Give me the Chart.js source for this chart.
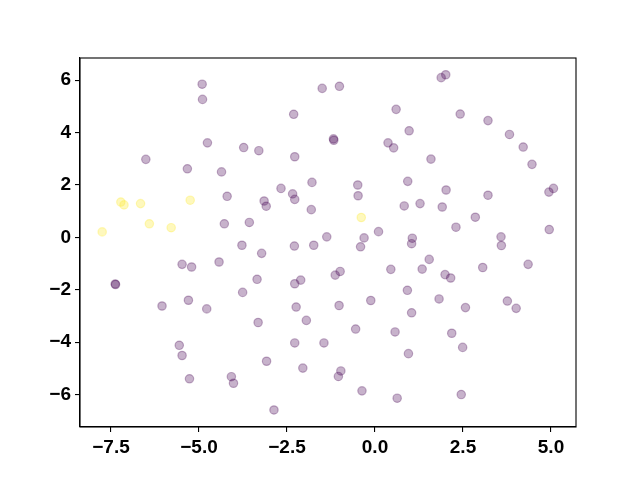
<!DOCTYPE html>
<html>
<head>
<meta charset="utf-8">
<script src="https://cdn.jsdelivr.net/npm/chart.js@4"></script>
<style>
  body { margin: 0; background: #fff; }
  canvas { display: block; }
</style>
</head>
<body>
<canvas id="plot" width="640" height="480"></canvas>
<script>
/* DATA */

const purpleX = [-4.91, -4.90, -4.76, -3.73, -6.51, -5.33, -4.36, -4.20, -4.28, -3.57, -3.78,
  -1.50, -1.01, -2.31, 0.60, 0.97, -1.18, -1.17, 0.37, 0.53, -3.30, -2.28, 0.93, -1.79, -0.49,
  -2.67, -0.48, -2.34, -2.28, -3.15, -3.09, 0.83, -1.81, 0.10, -1.37, -0.31, 1.06, 1.04,
  1.88, 2.01, 2.42, 3.21, 3.82, 4.21, 4.46, 1.59, 2.02, 3.21, 5.07, 4.94, 1.28, 1.91, 2.85,
  2.30, 4.95, 3.58, -5.48, -5.21, -4.43, -7.38, -7.37, -3.76, -5.30, -6.05, -4.78, -5.56,
  -5.48, -5.27, -4.08, -4.02, -3.22, -2.29, -1.74, -0.41, -3.35, -2.28, -2.11, -1.13, -0.99,
  0.45, 0.92, -2.24, -1.02, -0.12, 1.04, -3.32, -1.95, -0.55, 0.57, -2.28, -1.45, 0.95,
  -3.08, -2.05, -0.97, -1.04, -0.37, 0.63, -2.87, 3.59, 1.54, 1.34, 1.99, 2.15, 3.06, 4.35,
  1.82, 2.57, 3.76, 4.01, 2.18, 2.49, 2.45];
const purpleY = [5.85, 5.27, 3.61, 3.43, 2.98, 2.62, 2.50, 1.57, 0.52, 0.57, -0.30,
  5.69, 5.77, 4.70, 4.89, 4.07, 3.76, 3.71, 3.61, 3.42, 3.31, 3.08, 2.14, 2.10, 2.00,
  1.87, 1.59, 1.66, 1.45, 1.39, 1.19, 1.20, 1.06, 0.22, 0.02, -0.02, -0.03, -0.24,
  6.10, 6.21, 4.71, 4.46, 3.93, 3.45, 2.79, 2.99, 1.81, 1.61, 1.87, 1.73, 1.29, 1.16, 0.77,
  0.39, 0.30, 0.02, -1.03, -1.13, -0.94, -1.78, -1.80, -2.10, -2.40, -2.62, -2.73, -4.12,
  -4.51, -5.40, -5.32, -5.57, -0.61, -0.33, -0.30, -0.36, -1.60, -1.77, -1.63, -1.44, -1.30,
  -1.22, -2.02, -2.66, -2.60, -2.41, -2.88, -3.25, -3.17, -3.50, -3.61, -4.03, -4.03, -4.44,
  -4.73, -4.99, -5.10, -5.31, -5.86, -6.14, -6.59, -0.31, -0.84, -1.21, -1.42, -1.55, -1.15, -1.03,
  -2.35, -2.68, -2.43, -2.71, -3.66, -4.20, -6.00];

const yellowX = [-7.22, -7.13, -6.66, -5.25, -6.41, -5.79, -7.75, -0.39];
const yellowY = [1.35, 1.24, 1.29, 1.42, 0.52, 0.37, 0.21, 0.76];

const xTicks = [-7.5, -5.0, -2.5, 0.0, 2.5, 5.0];
const yTicks = [-6, -4, -2, 0, 2, 4, 6];

/* HELPERS */

const toPoints = (xs, ys) => xs.map((x, i) => ({ x: x, y: ys[i] }));
const minus = s => s.replace("-", "\u2212");

const tickFont = { family: "Liberation Sans", size: 19, weight: "bold" };

const frame = {
    id: "frame",
    afterDraw(chart) {
        const a = chart.chartArea;
        const ctx = chart.ctx;
        ctx.save();
        ctx.strokeStyle = "#000";
        ctx.lineWidth = 1.1;
        ctx.strokeRect(a.left, a.top, a.right - a.left, a.bottom - a.top);
        ctx.restore();
    }
};

function axis(min, max, ticks, fmt, fit) {
    return {
        type: "linear",
        min: min,
        max: max,
        afterBuildTicks: s => { s.ticks = ticks.map(v => ({ value: v })); },
        afterFit: fit,
        ticks: {
            callback: fmt,
            font: tickFont,
            color: "#000",
            padding: 4,
            autoSkip: false,
            maxRotation: 0
        },
        grid: {
            drawOnChartArea: false,
            tickLength: 5,
            color: "#000",
            lineWidth: 1.1
        },
        border: { color: "#000", width: 1.1 }
    };
}

new Chart(document.getElementById("plot"), {
    type: "scatter",
    data: {
        datasets: [
            {
                data: toPoints(purpleX, purpleY),
                backgroundColor: "rgba(68,1,84,0.3)",
                borderColor: "rgba(68,1,84,0.3)",
                borderWidth: 1.2,
                pointRadius: 4.2
            },
            {
                data: toPoints(yellowX, yellowY),
                backgroundColor: "rgba(253,231,37,0.3)",
                borderColor: "rgba(253,231,37,0.3)",
                borderWidth: 1.2,
                pointRadius: 4.2
            }
        ]
    },
    options: {
        responsive: false,
        animation: false,
        layout: { padding: { left: 0, top: 58, right: 64, bottom: 0 } },
        plugins: { legend: { display: false }, tooltip: { enabled: false } },
        scales: {
            x: axis(-8.38, 5.71, xTicks, v => minus(v.toFixed(1)), s => { s.height = 53; }),
            y: axis(-7.24, 6.85, yTicks, v => minus(String(v)), s => { s.width = 80; })
        }
    },
    plugins: [frame]
});
</script>
</body>
</html>
